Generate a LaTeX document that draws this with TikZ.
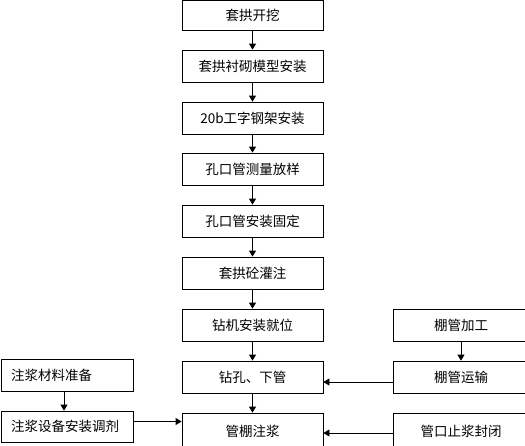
\documentclass[tikz,border=0pt]{standalone}
\usepackage{fontspec}
\newfontfamily\cjk{Noto Sans CJK SC}
\usepackage{tikz}
\tikzset{
	stepbox/.style={draw,line width=0.8pt,minimum width=141pt,minimum height=32pt,inner sep=0pt,font=\cjk\fontsize{13.5}{15}\selectfont},
	sidebox/.style={stepbox,minimum width=132pt,text width=112pt,align=left,inner xsep=10pt},
	farbox/.style={stepbox,minimum width=136pt},
	arr/.style={line width=0.8pt,-{Triangle[width=7pt,length=6pt]}}
}
\usetikzlibrary{arrows.meta,calc}

\begin{document}
\begin{tikzpicture}[x=1pt,y=-1pt]
\useasboundingbox (0,0) rectangle (525,445);
\clip (0,0) rectangle (525,445);
%main column
\node[stepbox,minimum height=30pt] (tgkw) at (252.5,15.5) {套拱开挖};
\node[stepbox] (tgcq) at (252.5,66) {套拱衬砌模型安装};
\node[stepbox] (gjaz) at (252.5,118) {20b工字钢架安装};
\node[stepbox] (kkcl) at (252.5,169) {孔口管测量放样};
\node[stepbox] (kkgd) at (252.5,221) {孔口管安装固定};
\node[stepbox] (tgjz) at (252.5,273) {套拱砼灌注};
\node[stepbox] (zjjw) at (252.5,325) {钻机安装就位};
\node[stepbox] (zkxg) at (252.5,377) {钻孔、下管};
\node[stepbox,minimum height=36pt] (gpzj) at (252.5,431) {管棚注浆};
%right column
\node[farbox] (pgjg) at (461,325) {棚管加工};
\node[farbox] (pgys) at (461,377) {棚管运输};
\node[farbox,minimum height=36pt] (gkfb) at (461,431) {管口止浆封闭};
%left column
\node[sidebox] (zjcl) at (67,375) {注浆材料准备};
\node[sidebox,minimum height=31pt] (zjsb) at (67,426.5) {注浆设备安装调剂};
%
\draw[arr] (tgkw) -- (tgcq);
\draw[arr] (tgcq) -- (gjaz);
\draw[arr] (gjaz) -- (kkcl);
\draw[arr] (kkcl) -- (kkgd);
\draw[arr] (kkgd) -- (tgjz);
\draw[arr] (tgjz) -- (zjjw);
\draw[arr] (zjjw) -- (zkxg);
\draw[arr] (zkxg) -- (gpzj);
\draw[arr] (pgjg) -- (pgys);
\draw[arr] ([xshift=-3pt]zjcl.south) -- ([xshift=-3pt]zjsb.north);
%
\coordinate (p1) at ([yshift=-5pt]pgys.west);
\coordinate (p2) at ([yshift=-2pt]gkfb.west);
\coordinate (p3) at ([yshift=5pt]zjsb.east);
\draw[arr] (p1) -- (p1 -| zkxg.east);
\draw[arr] (p2) -- (p2 -| gpzj.east);
\draw[arr] (p3) -- (p3 -| gpzj.west);
\end{tikzpicture}
\end{document}
